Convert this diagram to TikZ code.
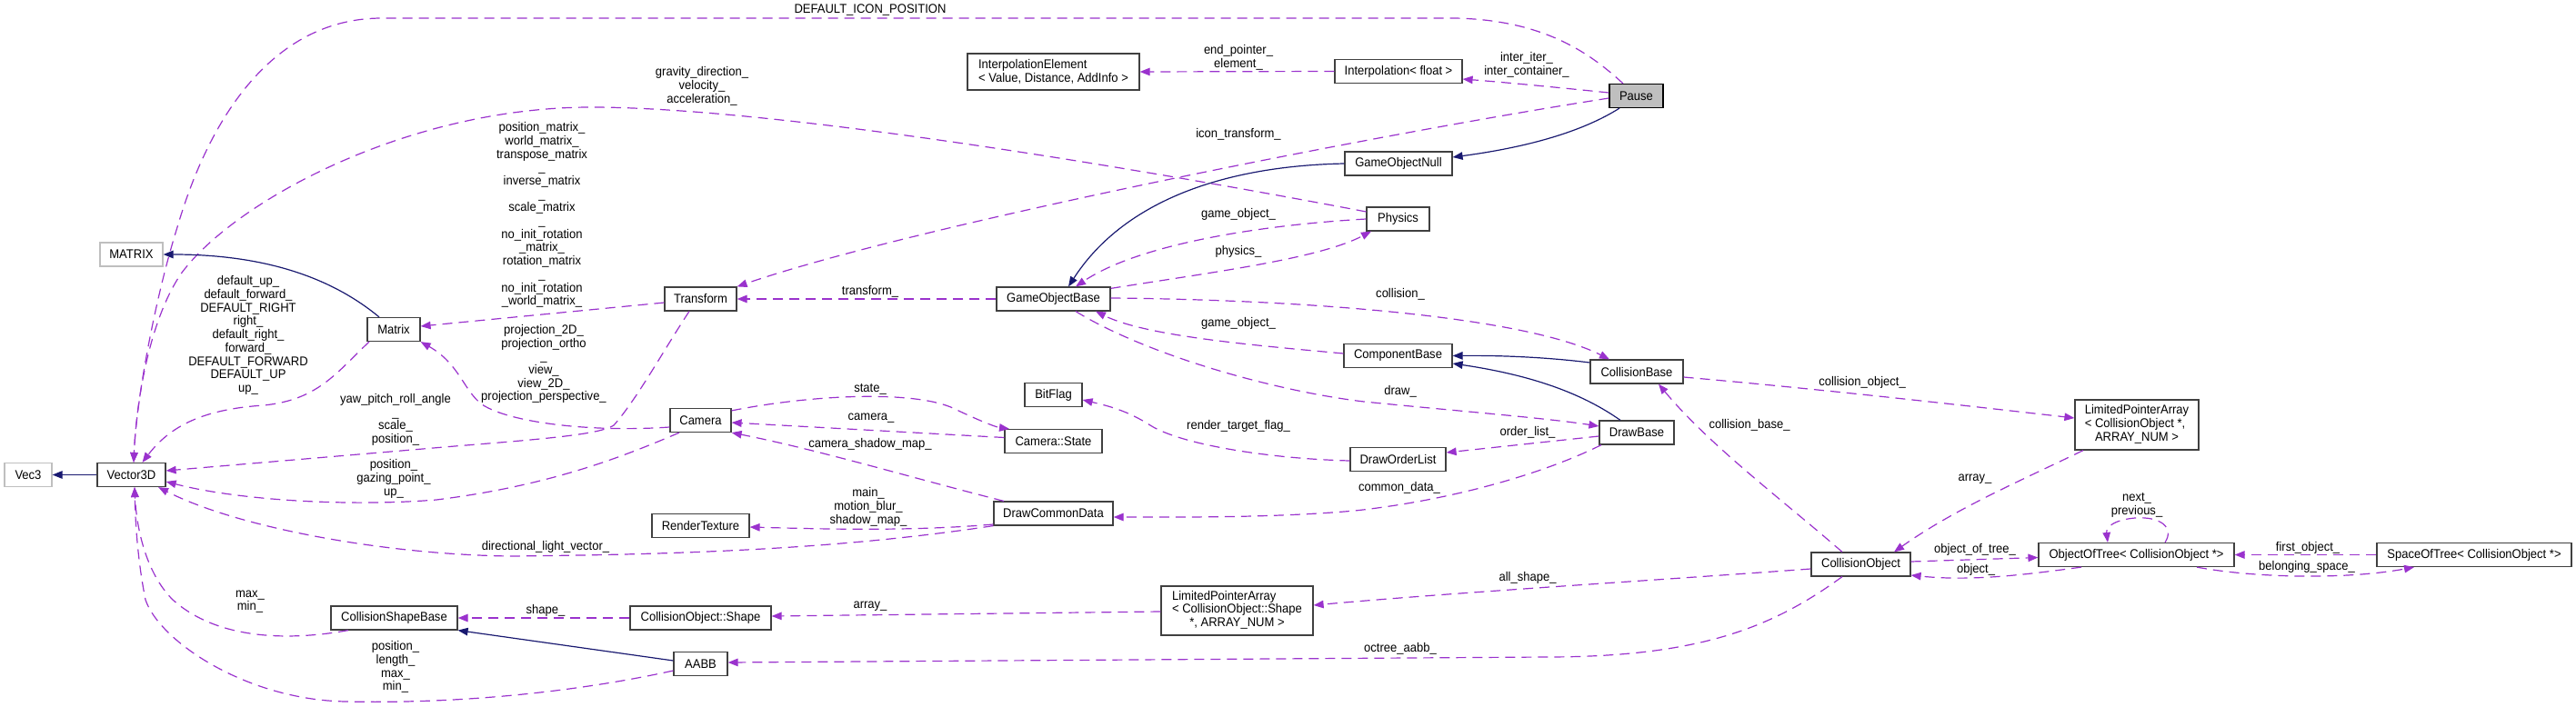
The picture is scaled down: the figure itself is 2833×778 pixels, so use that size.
\documentclass[tikz,border=0pt]{standalone}
\usepackage{fontspec}
\setmainfont{Liberation Sans}[FakeStretch=0.93]
\usetikzlibrary{arrows.meta}
\definecolor{usec}{HTML}{9A32CD}
\definecolor{inhc}{HTML}{191970}
\definecolor{extc}{HTML}{BFBFBF}
\definecolor{boxc}{HTML}{404040}
\begin{document}
\begin{tikzpicture}[x=1pt,y=-1pt,
  every node/.style={font=\fontsize{14}{14.7}\selectfont, inner sep=0pt},
  cls/.style={draw=boxc, line width=1.2pt, fill=white, minimum height=26pt},
  extcls/.style={cls, draw=extc},
  lbl/.style={align=center},
  uses/.style={draw=usec, line width=1.2pt, dash pattern=on 11pt off 7pt, -{Triangle[length=11pt,width=8.5pt]}},
  inh/.style={draw=inhc, line width=1.2pt, -{Triangle[length=11pt,width=8.5pt]}}]
\useasboundingbox (0,0) rectangle (2833,778);

% ---------- classes ----------
\node[extcls, minimum width=52pt] (vec3) at (31,522.5) {Vec3};
\node[cls, minimum width=75pt] (v3d) at (144.5,522.5) {Vector3D};
\node[extcls, minimum width=69pt] (mat2) at (144.5,280) {MATRIX};
\node[cls, minimum width=58pt] (matrix) at (433,362.5) {Matrix};
\node[cls, minimum width=139pt] (csb) at (433.5,680) {CollisionShapeBase};
\node[cls, minimum width=79pt] (transform) at (770.5,329) {Transform};
\node[cls, minimum width=67pt] (camera) at (770.5,462.5) {Camera};
\node[cls, minimum width=107pt] (rt) at (770.5,578.5) {RenderTexture};
\node[cls, minimum width=155pt] (coshape) at (770.5,680) {CollisionObject::Shape};
\node[cls, minimum width=59pt] (aabb) at (770.5,730.5) {AABB};
\node[cls, minimum width=189pt, minimum height=40pt, align=left] (ielem) at (1158.5,79) {InterpolationElement\\< Value, Distance, AddInfo >};
\node[cls, minimum width=125pt] (gob) at (1158.5,329) {GameObjectBase};
\node[cls, minimum width=63pt] (bitflag) at (1158.5,434.5) {BitFlag};
\node[cls, minimum width=107pt] (cstate) at (1158.5,485.5) {Camera::State};
\node[cls, minimum width=131pt] (dcd) at (1158.5,565) {DrawCommonData};
\node[cls, minimum width=140pt] (interp) at (1538,78.5) {Interpolation< float >};
\node[cls, minimum width=118pt] (gon) at (1538,180) {GameObjectNull};
\node[cls, minimum width=69pt] (physics) at (1537.5,241) {Physics};
\node[cls, minimum width=119pt] (cbase) at (1537.5,391.5) {ComponentBase};
\node[cls, minimum width=105pt] (dol) at (1537.5,505.5) {DrawOrderList};
\node[cls, minimum width=167pt, minimum height=54pt] (lpas) at (1360.5,672)
  {\begin{tabular}{@{}l@{}}LimitedPointerArray\\< CollisionObject::Shape\\\multicolumn{1}{@{}c@{}}{*, ARRAY\_NUM >}\end{tabular}};
\node[cls, fill=extc, draw=black, minimum width=59pt] (pause) at (1799.5,105.5) {Pause};
\node[cls, minimum width=102pt] (cb) at (1800,409) {CollisionBase};
\node[cls, minimum width=82pt] (drawbase) at (1800,476) {DrawBase};
\node[cls, minimum width=109pt] (co) at (2046.5,621) {CollisionObject};
\node[cls, minimum width=136pt, minimum height=55pt] (lpac) at (2350,467.5)
  {\begin{tabular}{@{}l@{}}LimitedPointerArray\\< CollisionObject *,\\\multicolumn{1}{@{}c@{}}{ARRAY\_NUM >}\end{tabular}};
\node[cls, minimum width=215pt] (oot) at (2349.5,610.5) {ObjectOfTree< CollisionObject *>};
\node[cls, minimum width=214pt] (sot) at (2721,610.5) {SpaceOfTree< CollisionObject *>};

% ---------- edges ----------
\draw[uses] ([xshift=-14.5pt]pause.north) .. controls (1750,60) and (1700,22) .. (1600,20) -- (420,20)
  .. controls (300,20) and (230,130) .. (195,250) .. controls (170,330) and (150,440) .. ([xshift=2.5pt]v3d.north);
\node[lbl] (l1) at (957,11) {DEFAULT\_ICON\_POSITION};

\draw[uses] ([yshift=8pt]physics.west) .. controls (1250,185) and (850,118) .. (650,118)
  .. controls (450,118) and (260,220) .. (200,300) .. controls (165,350) and (150,440) .. ([xshift=2.5pt]v3d.north);
\node[lbl] (l2) at (772,95) {gravity\_direction\_\\velocity\_\\acceleration\_};

\draw[uses] ([yshift=3.5pt]pause.west) .. controls (1720,97) and (1660,91) .. ([yshift=-8.5pt]interp.east);
\node[lbl] (l3) at (1679,71.5) {inter\_iter\_\\inter\_container\_};

\draw[uses] (interp.west) -- (ielem.east);
\node[lbl] (l4) at (1362,63.5) {end\_pointer\_\\element\_};

\draw[inh] ([xshift=-18.5pt]pause.south) .. controls (1740,145) and (1680,162) .. ([yshift=7pt]gon.east);
\draw[inh] (gon.west) .. controls (1330,183) and (1230,230) .. ([xshift=16.5pt]gob.north);

\draw[uses] ([yshift=-2.5pt]pause.west) .. controls (1500,150) and (1000,250) .. (transform.north east);
\node[lbl] (l7) at (1362,148) {icon\_transform\_};

\draw[uses] (physics.west) .. controls (1380,248) and (1250,270) .. ([xshift=24.5pt]gob.north);
\node[lbl] (l8) at (1362,236) {game\_object\_};

\draw[uses] ([yshift=-2pt]gob.north east) .. controls (1330,300) and (1450,285) .. ([xshift=-29.5pt]physics.south);
\node[lbl] (l9) at (1362,277) {physics\_};

\draw[uses] (gob.west) -- (transform.east);
\node[lbl] (l10) at (957,321) {transform\_};

\draw[uses] ([yshift=1pt]gob.east) .. controls (1450,330) and (1680,350) .. ([xshift=-30pt]cb.north);
\node[lbl] (l11) at (1540,324) {collision\_};

\draw[uses] ([yshift=2.5pt]cbase.west) .. controls (1380,380) and (1260,370) .. ([xshift=46.5pt]gob.south);
\node[lbl] (l12) at (1362,356) {game\_object\_};

\draw[uses] ([xshift=24.5pt]gob.south) .. controls (1260,390) and (1400,430) .. (1500,442)
  .. controls (1600,452) and (1700,460) .. ([yshift=7pt]drawbase.west);
\node[lbl] (l13) at (1540,431) {draw\_};

\draw[inh] ([yshift=10pt]cb.west) .. controls (1700,393) and (1650,391) .. (cbase.east);
\draw[inh] ([xshift=-18pt]drawbase.north) .. controls (1750,440) and (1700,415) .. ([yshift=-8.5pt]cbase.east);

\draw[uses] ([yshift=-4pt]drawbase.west) -- ([yshift=7.5pt]dol.east);
\node[lbl] (l16) at (1680,476) {order\_list\_};

\draw[uses] ([xshift=-39pt]drawbase.south) .. controls (1700,520) and (1600,550) .. (1490,562)
  .. controls (1400,570) and (1300,569) .. ([yshift=-4pt]dcd.east);
\node[lbl] (l17) at (1539,537) {common\_data\_};

\draw[uses] ([yshift=-1.5pt]dol.west) .. controls (1400,505) and (1300,490) .. (1265,468)
  .. controls (1240,452) and (1220,447) .. ([yshift=-5.5pt]bitflag.east);
\node[lbl] (l18) at (1362,469) {render\_target\_flag\_};

\draw[uses] ([xshift=-54.5pt]dcd.north) .. controls (1000,525) and (900,495) .. (camera.south east);
\node[lbl] (l19) at (957,489) {camera\_shadow\_map\_};

\draw[uses] ([yshift=-12pt]dcd.west) .. controls (1000,585) and (900,582) .. ([yshift=-1.5pt]rt.east);
\node[lbl] (l20) at (955,558) {main\_\\motion\_blur\_\\shadow\_map\_};

\draw[uses] (dcd.south west) .. controls (950,600) and (800,610) .. (560,612)
  .. controls (420,610) and (260,580) .. ([xshift=-8.5pt]v3d.south east);
\node[lbl] (l21) at (600,602) {directional\_light\_vector\_};

\draw[uses] ([yshift=4pt]cstate.west) -- ([yshift=-2.5pt]camera.east);
\node[lbl] (l22) at (958,460) {camera\_};

\draw[uses] ([yshift=-3pt]camera.north east) .. controls (900,433) and (1010,430) .. (1050,450)
  .. controls (1075,462) and (1095,470) .. ([xshift=-48.5pt]cstate.north);
\node[lbl] (l23) at (957,428) {state\_};

\draw[uses] ([yshift=-7.5pt]camera.west) .. controls (650,476) and (560,465) .. (530,445)
  .. controls (510,430) and (505,400) .. (matrix.south east);
\node[lbl] (l24) at (598,400.5) {projection\_2D\_\\projection\_ortho\\\_\\view\_\\view\_2D\_\\projection\_perspective\_};

\draw[uses] ([yshift=-4pt]transform.west) -- ([yshift=3.5pt]matrix.east);
\node[lbl] (l25) at (596,236.5) {position\_matrix\_\\world\_matrix\_\\transpose\_matrix\\\_\\inverse\_matrix\\\_\\scale\_matrix\\\_\\no\_init\_rotation\\\_matrix\_\\rotation\_matrix\\\_\\no\_init\_rotation\\\_world\_matrix\_};

\draw[uses] ([xshift=-12.5pt]transform.south) .. controls (730,385) and (700,440) .. (675,468)
  .. controls (660,478) and (600,483) .. (500,491) -- ([yshift=4.5pt]v3d.east);
\node[lbl] (l26) at (435,462) {yaw\_pitch\_roll\_angle\\\_\\scale\_\\position\_};

\draw[uses] ([xshift=-23.5pt]camera.south) .. controls (680,505) and (600,535) .. (480,550)
  .. controls (380,558) and (260,550) .. ([yshift=-7.5pt]v3d.east);
\node[lbl] (l27) at (433,527) {position\_\\gazing\_point\_\\up\_};

\draw[uses] ([xshift=-27pt]matrix.south) .. controls (370,410) and (350,440) .. (290,446)
  .. controls (230,450) and (190,465) .. ([xshift=12pt]v3d.north);
\node[lbl] (l28) at (273,369) {default\_up\_\\default\_forward\_\\DEFAULT\_RIGHT\\right\_\\default\_right\_\\forward\_\\DEFAULT\_FORWARD\\DEFAULT\_UP\\up\_};

\draw[inh] (v3d.west) -- (vec3.east);
\draw[inh] ([xshift=-16pt]matrix.north) .. controls (370,310) and (300,280) .. (mat2.east);

\draw[uses] ([xshift=-50.5pt]csb.south) .. controls (320,705) and (240,705) .. (190,660)
  .. controls (160,630) and (150,580) .. ([xshift=3.5pt]v3d.south);
\node[lbl] (l31) at (275,662) {max\_\\min\_};

\draw[uses] ([yshift=-7.5pt]aabb.west) .. controls (650,758) and (520,775) .. (380,772)
  .. controls (270,770) and (175,705) .. (160,660) .. controls (152,620) and (149,580) .. ([xshift=3.5pt]v3d.south);
\node[lbl] (l32) at (435,734) {position\_\\length\_\\max\_\\min\_};

\draw[inh] ([yshift=3.5pt]aabb.west) -- (csb.south east);

\draw[uses] (coshape.west) -- (csb.east);
\node[lbl] (l34) at (600,672) {shape\_};

\draw[uses] ([yshift=-1pt]lpas.west) -- ([yshift=2pt]coshape.east);
\node[lbl] (l35) at (957,667) {array\_};

\draw[uses] ([yshift=-5pt]co.west) .. controls (1800,640) and (1600,652) .. ([yshift=6pt]lpas.east);
\node[lbl] (l36) at (1680,636) {all\_shape\_};

\draw[uses] ([xshift=-20.5pt]co.south) .. controls (1950,690) and (1870,723) .. (1700,723) -- ([yshift=1.5pt]aabb.east);
\node[lbl] (l37) at (1540,714) {octree\_aabb\_};

\draw[uses] ([xshift=-20.5pt]co.north) .. controls (1960,550) and (1880,490) .. ([xshift=24pt]cb.south);
\node[lbl] (l38) at (1924,468) {collision\_base\_};

\draw[uses] ([yshift=-6pt]cb.east) .. controls (2000,428) and (2150,445) .. ([yshift=7.5pt]lpac.west);
\node[lbl] (l39) at (2048,421) {collision\_object\_};

\draw[uses] ([xshift=-59pt]lpac.south) .. controls (2220,530) and (2150,560) .. ([xshift=36.5pt]co.north);
\node[lbl] (l40) at (2172,527) {array\_};

\draw[uses] ([yshift=3pt]co.east) -- ([yshift=-3pt]oot.west);
\node[lbl] (l41) at (2172,605) {object\_of\_tree\_};

\draw[uses] ([xshift=-60.5pt]oot.south) .. controls (2230,632) and (2170,640) .. ([yshift=-12pt]co.east);
\node[lbl] (l42) at (2173,627) {object\_};

\draw[uses] ([xshift=31.5pt]oot.north) .. controls (2392,580) and (2375,568) .. (2348,570)
  .. controls (2325,572) and (2316,580) .. ([xshift=-31.5pt]oot.north);
\node[lbl] (l43) at (2350,556) {next\_\\previous\_};

\draw[uses] (sot.west) -- (oot.east);
\node[lbl] (l44) at (2538,603) {first\_object\_};

\draw[uses] ([xshift=66.5pt]oot.south) .. controls (2480,636) and (2580,638) .. ([xshift=-66pt]sot.south);
\node[lbl] (l45) at (2537,624) {belonging\_space\_};
\end{tikzpicture}
\end{document}
